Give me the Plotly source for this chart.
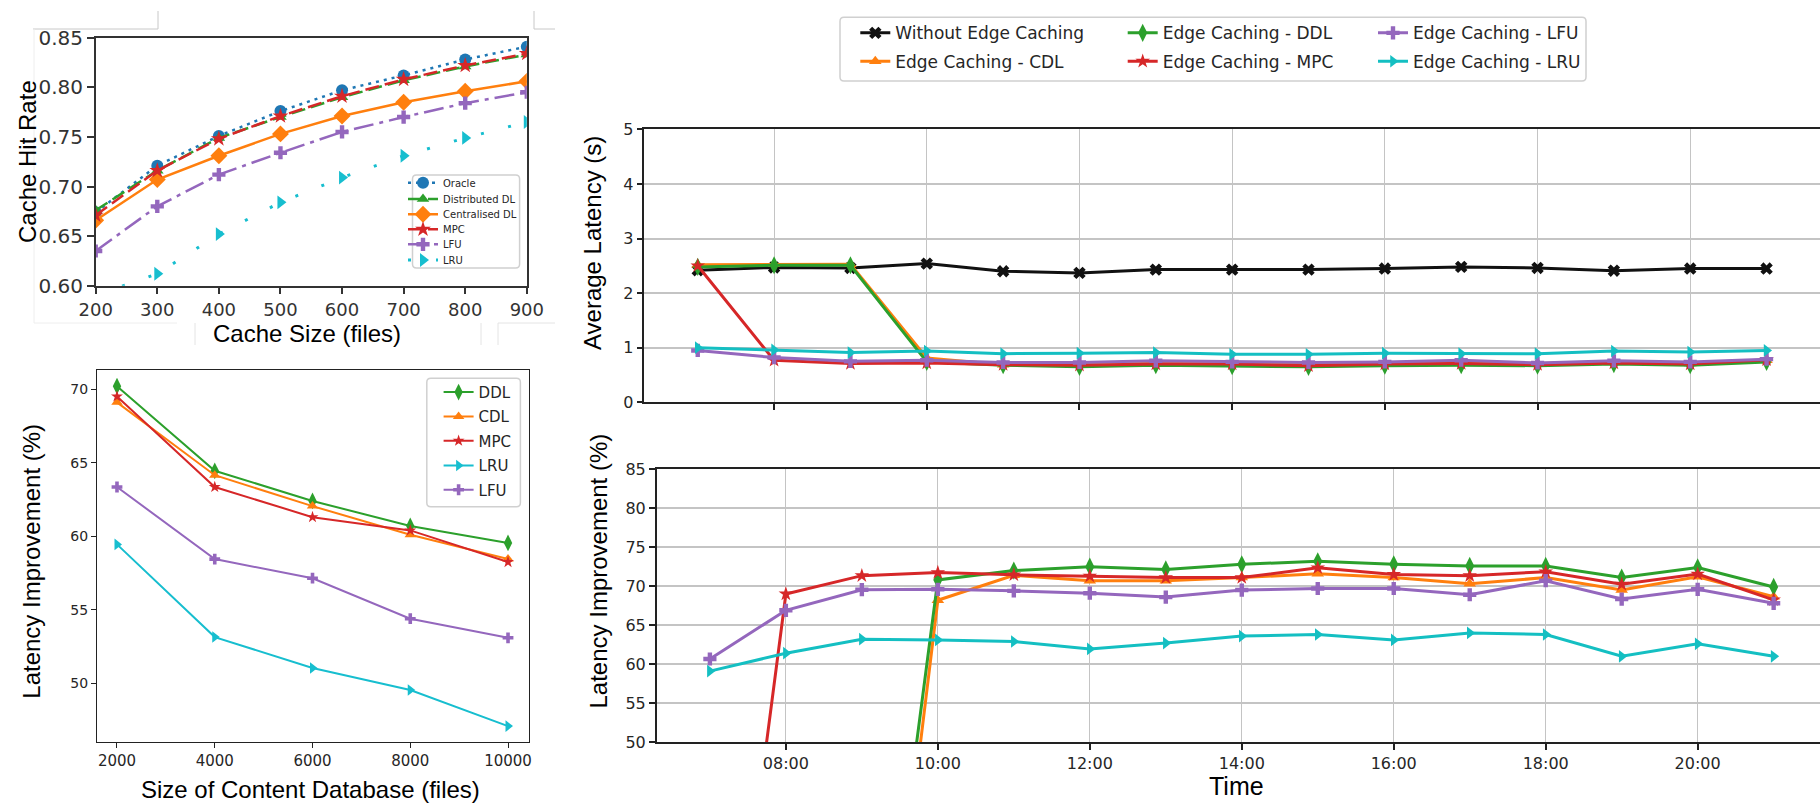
import plotly.graph_objects as go

W, H = 1820, 804

# ---------------- data: cache hit rate vs cache size ----------------
cache_sizes = [200, 300, 400, 500, 600, 700, 800, 900]
hit_oracle = [0.674, 0.721, 0.751, 0.776, 0.797, 0.812, 0.828, 0.841]
hit_ddl = [0.676, 0.716, 0.749, 0.770, 0.790, 0.807, 0.821, 0.833]
hit_cdl = [0.666, 0.707, 0.731, 0.753, 0.771, 0.785, 0.796, 0.806]
hit_mpc = [0.671, 0.716, 0.748, 0.771, 0.791, 0.808, 0.822, 0.834]
hit_lfu = [0.635, 0.680, 0.712, 0.734, 0.755, 0.770, 0.784, 0.795]
hit_lru = [0.590, 0.612, 0.652, 0.684, 0.709, 0.731, 0.749, 0.765]
hit_ticks = [0.60, 0.65, 0.70, 0.75, 0.80, 0.85]

# ---------------- data: latency improvement vs database size ----------------
db_sizes = [2000, 4000, 6000, 8000, 10000]
dbimp_ddl = [70.2, 64.45, 62.4, 60.7, 59.55]
dbimp_cdl = [69.1, 64.15, 62.05, 60.1, 58.45]
dbimp_mpc = [69.5, 63.35, 61.3, 60.4, 58.25]
dbimp_lru = [59.45, 53.15, 51.05, 49.55, 47.1]
dbimp_lfu = [63.35, 58.45, 57.15, 54.4, 53.1]
db_yticks = [50, 55, 60, 65, 70]

# ---------------- data: hourly latency / improvement ----------------
hours = [7, 8, 9, 10, 11, 12, 13, 14, 15, 16, 17, 18, 19, 20, 21]
time_tick_vals = [8, 10, 12, 14, 16, 18, 20]
time_tick_text = ["08:00", "10:00", "12:00", "14:00", "16:00", "18:00", "20:00"]

lat_none = [2.42, 2.47, 2.46, 2.54, 2.40, 2.37, 2.43, 2.43, 2.43, 2.45, 2.48, 2.46, 2.41, 2.45, 2.45]
lat_cdl = [2.52, 2.53, 2.53, 0.81, 0.69, 0.70, 0.71, 0.70, 0.69, 0.71, 0.74, 0.71, 0.74, 0.71, 0.77]
lat_ddl = [2.48, 2.51, 2.51, 0.74, 0.68, 0.65, 0.68, 0.66, 0.65, 0.67, 0.68, 0.67, 0.70, 0.68, 0.74]
lat_mpc = [2.50, 0.77, 0.71, 0.72, 0.69, 0.68, 0.70, 0.70, 0.67, 0.70, 0.71, 0.69, 0.72, 0.70, 0.78]
lat_lfu = [0.95, 0.82, 0.75, 0.77, 0.73, 0.73, 0.76, 0.74, 0.73, 0.74, 0.77, 0.72, 0.76, 0.74, 0.79]
lat_lru = [1.00, 0.96, 0.91, 0.94, 0.89, 0.90, 0.91, 0.88, 0.88, 0.90, 0.89, 0.89, 0.94, 0.92, 0.95]

imp_cdl = [-4.0, -2.4, -12.0, 68.2, 71.4, 70.7, 70.7, 71.1, 71.6, 71.1, 70.3, 71.1, 69.5, 71.2, 68.65]
imp_ddl = [-2.0, -1.6, -4.0, 70.8, 72.0, 72.5, 72.15, 72.8, 73.2, 72.8, 72.6, 72.6, 71.1, 72.4, 69.9]
imp_mpc = [-6.0, 69.0, 71.35, 71.75, 71.45, 71.3, 71.1, 71.1, 72.35, 71.5, 71.35, 71.85, 70.25, 71.55, 68.25]
imp_lfu = [60.65, 66.9, 69.55, 69.6, 69.4, 69.1, 68.6, 69.5, 69.7, 69.7, 68.9, 70.7, 68.35, 69.6, 67.8]
imp_lru = [59.1, 61.4, 63.2, 63.1, 62.9, 61.95, 62.7, 63.6, 63.8, 63.1, 64.0, 63.8, 61.0, 62.6, 61.0]


def px_x(p):
    return p / W


def px_y(p):
    return 1 - p / H


BLUE, ORANGE, GREEN, RED, PURPLE = "#1f77b4", "#ff7f0e", "#2ca02c", "#d62728", "#9467bd"
CYAN_A, CYAN_R = "#17becf", "#14bfc2"

fig = go.Figure()
legends = {}


def add_legend(name, text_x, row_y, size, itemwidth=30):
    legends[name] = dict(
        x=px_x(text_x - 10 - itemwidth), y=px_y(row_y), xanchor="left", yanchor="middle",
        bgcolor="rgba(0,0,0,0)", borderwidth=0, itemwidth=itemwidth,
        font=dict(family="DejaVu Sans", size=size, color="#262626"),
    )


# ---------------- panel A (top-left) ----------------
a_series = [
    ("Oracle", hit_oracle, BLUE, "3px,5px", 2.5, "circle", 12),
    ("Distributed DL", hit_ddl, GREEN, "14px,6px", 2.5, "triangle-up", 11),
    ("Centralised DL", hit_cdl, ORANGE, "solid", 2.5, "diamond", 13),
    ("MPC", hit_mpc, RED, "14px,6px", 2.5, "star", 12),
    ("LFU", hit_lfu, PURPLE, "20px,6px,4px,6px", 2.5, "cross", 11),
    ("LRU", hit_lru, CYAN_A, "3px,25px", 3, "triangle-right", 12),
]
a_rows = [182.7, 199, 214.3, 229.3, 244.3, 260]
for i, (nm, ys, col, dash, lw, sym, ms) in enumerate(a_series):
    lg = "legend" if i == 0 else f"legend{i + 1}"
    add_legend(lg, 443, a_rows[i], 10)
    fig.add_trace(go.Scatter(
        x=cache_sizes, y=ys, name=nm, mode="lines+markers", xaxis="x", yaxis="y",
        line=dict(color=col, width=lw, dash=dash),
        marker=dict(symbol=sym, size=ms, color=col, line=dict(width=0)),
        legend=lg,
    ))

# ---------------- panel B (bottom-left) ----------------
b_series = [
    ("DDL", dbimp_ddl, GREEN, "diamond-tall", 12),
    ("CDL", dbimp_cdl, ORANGE, "triangle-up", 10),
    ("MPC", dbimp_mpc, RED, "star", 9),
    ("LRU", dbimp_lru, CYAN_A, "triangle-right", 10),
    ("LFU", dbimp_lfu, PURPLE, "cross", 9),
]
b_rows = [392.3, 416.7, 441, 465.7, 490]
for i, (nm, ys, col, sym, ms) in enumerate(b_series):
    lg = f"legend{7 + i}"
    add_legend(lg, 478.6, b_rows[i], 15)
    fig.add_trace(go.Scatter(
        x=db_sizes, y=ys, name=nm, mode="lines+markers", xaxis="x2", yaxis="y2",
        line=dict(color=col, width=2),
        marker=dict(symbol=sym, size=ms, color=col, line=dict(width=0)),
        legend=lg,
    ))

# ---------------- panels C/D (right) ----------------
c_series = [
    ("Without Edge Caching", lat_none, None, "#111111", "x", 11, 895.3, 33.3),
    ("Edge Caching - CDL", lat_cdl, imp_cdl, ORANGE, "triangle-up", 11, 895.3, 61.7),
    ("Edge Caching - DDL", lat_ddl, imp_ddl, GREEN, "diamond-tall", 13, 1162.7, 33.3),
    ("Edge Caching - MPC", lat_mpc, imp_mpc, RED, "star", 11, 1162.7, 61.7),
    ("Edge Caching - LFU", lat_lfu, imp_lfu, PURPLE, "cross", 11, 1413, 33.3),
    ("Edge Caching - LRU", lat_lru, imp_lru, CYAN_R, "triangle-right", 11, 1413, 61.7),
]
for i, (nm, lat, imp, col, sym, ms, tx, ty) in enumerate(c_series):
    lg = f"legend{12 + i}"
    add_legend(lg, tx, ty, 17)
    fig.add_trace(go.Scatter(
        x=hours, y=lat, name=nm, mode="lines+markers", xaxis="x3", yaxis="y3",
        line=dict(color=col, width=3),
        marker=dict(symbol=sym, size=ms, color=col, line=dict(width=0)),
        legend=lg,
    ))
    if imp is not None:
        fig.add_trace(go.Scatter(
            x=hours, y=imp, name=nm, mode="lines+markers", xaxis="x4", yaxis="y4",
            line=dict(color=col, width=3),
            marker=dict(symbol=sym, size=ms, color=col, line=dict(width=0)),
            showlegend=False,
        ))


def tickfont(s, c="#262626"):
    return dict(family="DejaVu Sans", size=s, color=c)


def axis_common(lc, lw, tl, tf, mirror=True):
    return dict(showline=True, linecolor=lc, linewidth=lw, mirror=mirror, ticks="outside",
                ticklen=tl, tickwidth=lw, tickcolor=lc, tickfont=tf, zeroline=False)


GRID = "#c4c4c4"

layout = dict(
    width=W, height=H, margin=dict(l=0, r=0, t=0, b=0, autoexpand=False), autosize=False,
    paper_bgcolor="white", plot_bgcolor="white", showlegend=True,
    xaxis=dict(domain=[px_x(95.7), px_x(526.8)], anchor="y", range=[200, 900],
               tickvals=cache_sizes, showgrid=False,
               **axis_common("#333333", 1.5, 7, tickfont(18, "#333333"))),
    yaxis=dict(domain=[px_y(285.7), px_y(37.7)], anchor="x", range=[0.6, 0.85],
               tickvals=hit_ticks, tickformat=".2f", showgrid=False,
               **axis_common("#333333", 1.5, 7, tickfont(20, "#333333"))),
    xaxis2=dict(domain=[px_x(97), px_x(528.6)], anchor="y2", range=[1591, 10421],
                tickvals=db_sizes, tickformat="d", showgrid=False,
                **axis_common("#222222", 1.2, 5, tickfont(15))),
    yaxis2=dict(domain=[px_y(742.3), px_y(370)], anchor="x2", range=[46.0, 71.3],
                tickvals=db_yticks, showgrid=False,
                **axis_common("#222222", 1.2, 5, tickfont(14))),
    xaxis3=dict(domain=[px_x(644.3), 1.0], anchor="y3", range=[6.3, 21.7],
                tickvals=time_tick_vals, showticklabels=False,
                showgrid=True, gridcolor=GRID, gridwidth=1.2,
                **axis_common("#222222", 1.5, 6, tickfont(16))),
    yaxis3=dict(domain=[px_y(402.3), px_y(129.3)], anchor="x3", range=[0, 5], dtick=1,
                showgrid=True, gridcolor=GRID, gridwidth=1.5,
                **axis_common("#222222", 1.5, 6, tickfont(16), mirror=False)),
    xaxis4=dict(domain=[px_x(656.7), 1.0], anchor="y4", range=[6.3, 21.61],
                tickvals=time_tick_vals, ticktext=time_tick_text,
                showgrid=True, gridcolor=GRID, gridwidth=1.2,
                **axis_common("#222222", 1.5, 6, tickfont(16))),
    yaxis4=dict(domain=[px_y(742), px_y(469.3)], anchor="x4", range=[50, 85], dtick=5,
                showgrid=True, gridcolor=GRID, gridwidth=1.5,
                **axis_common("#222222", 1.5, 6, tickfont(16), mirror=False)),
)
layout.update(legends)


def rrect(x0, y0, x1, y1, r=4):
    X0, X1 = px_x(x0), px_x(x1)
    Y0, Y1 = px_y(y0), px_y(y1)
    rx, ry = r / W, r / H
    return (f"M{X0 + rx},{Y0} L{X1 - rx},{Y0} Q{X1},{Y0} {X1},{Y0 - ry} "
            f"L{X1},{Y1 + ry} Q{X1},{Y1} {X1 - rx},{Y1} L{X0 + rx},{Y1} "
            f"Q{X0},{Y1} {X0},{Y1 + ry} L{X0},{Y0 - ry} Q{X0},{Y0} {X0 + rx},{Y0} Z")


shapes = []
for (x0, y0, x1, y1) in [(840, 17.3, 1586, 81), (426.8, 378.3, 520.4, 506.7), (412.5, 175, 519.6, 268)]:
    shapes.append(dict(type="path", xref="paper", yref="paper", path=rrect(x0, y0, x1, y1),
                       fillcolor="rgba(255,255,255,0.85)", line=dict(color="#d0d0d0", width=1.5),
                       layer="above"))

# faint frame remnants around the top-left panel
for (x0, y0, x1, y1, c) in [
    (33, 29, 158, 29, "#c8c8c8"), (158, 11, 158, 29, "#c8c8c8"),
    (534, 11, 534, 29, "#c8c8c8"), (534, 29, 555, 29, "#c8c8c8"),
    (34, 29, 34, 323, "#eeeeee"), (34, 323, 177, 323, "#eeeeee"),
    (195, 323, 195, 345, "#e4e4e4"), (481, 323, 481, 345, "#e4e4e4"),
    (498, 323, 555, 323, "#e4e4e4"), (498, 323, 498, 345, "#e4e4e4"),
]:
    shapes.append(dict(type="line", xref="paper", yref="paper", x0=px_x(x0), x1=px_x(x1),
                       y0=px_y(y0), y1=px_y(y1), line=dict(color=c, width=1), layer="below"))
layout["shapes"] = shapes

TITLE = "Liberation Sans, Arial, sans-serif"
ann = []
for (txt, x, y, ang, size) in [
    ("Cache Hit Rate", 27, 162, -90, 24),
    ("Cache Size (files)", 306.6, 333.3, 0, 24),
    ("Latency Improvement (%)", 32, 561.7, -90, 24),
    ("Size of Content Database (files)", 310, 789, 0, 24),
    ("Average Latency (s)", 592.5, 243.5, -90, 24),
    ("Latency Improvement (%)", 597.5, 571, -90, 24),
    ("Time", 1236, 786, 0, 25),
]:
    ann.append(dict(text=txt, xref="paper", yref="paper", x=px_x(x), y=px_y(y),
                    xanchor="center", yanchor="middle", showarrow=False, textangle=ang,
                    font=dict(family=TITLE, size=size, color="#000000")))
layout["annotations"] = ann

fig.update_layout(**layout)
fig.write_html("out.html", config={"displayModeBar": False},
               post_script="document.body.style.margin='0';")
